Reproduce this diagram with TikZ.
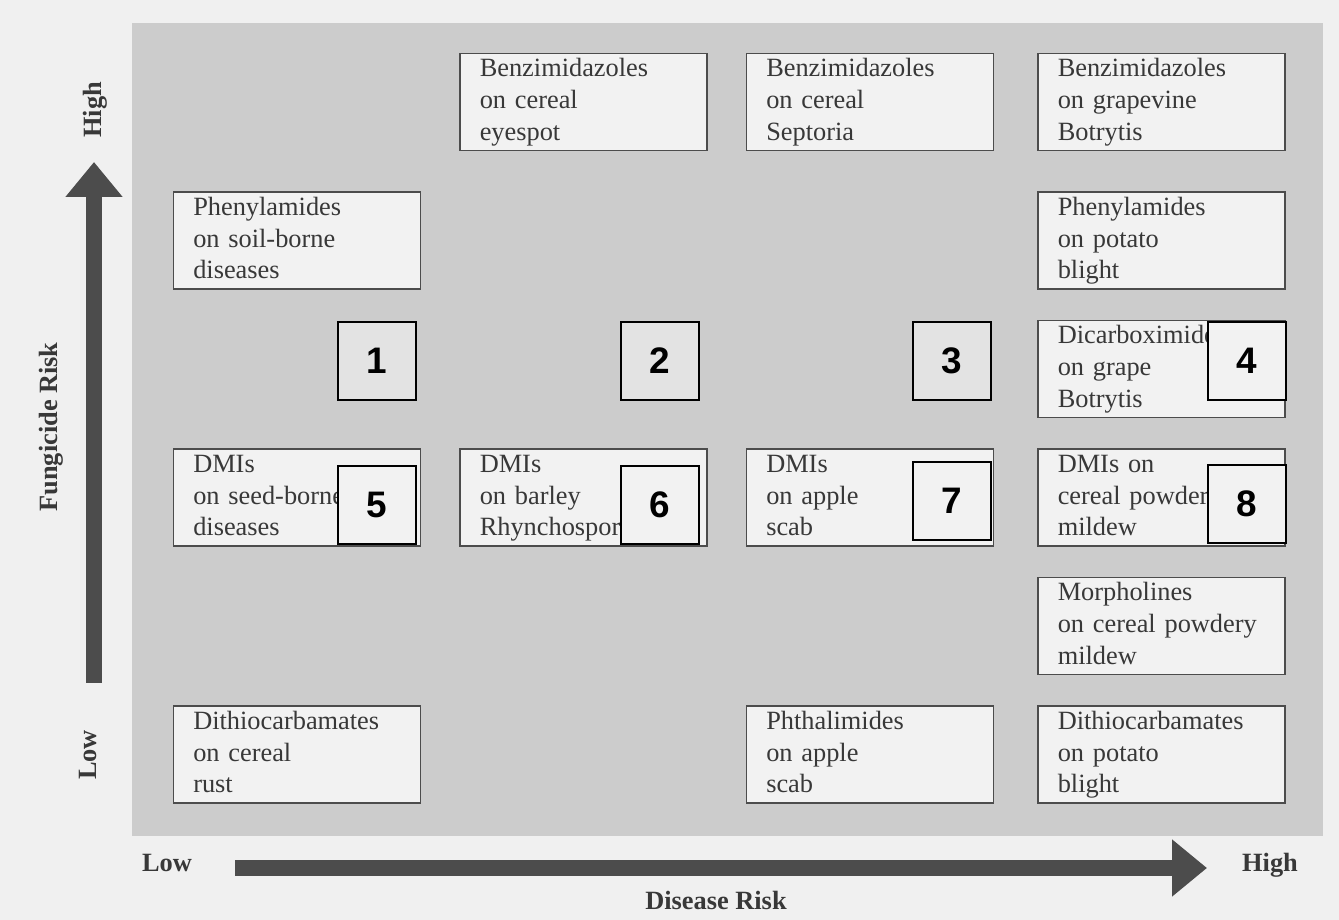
\documentclass[tikz,border=0pt]{standalone}
\usepackage{fontspec}
\setmainfont{Liberation Serif}
\newfontfamily\numfont{Liberation Sans}
\usepackage{tikz}
\usetikzlibrary{arrows.meta, positioning, calc}
\definecolor{page}{gray}{0.94}
\definecolor{panel}{gray}{0.80}
\definecolor{boxfill}{gray}{0.95}
\definecolor{boxline}{gray}{0.30}
\definecolor{ink}{gray}{0.22}
\definecolor{numgrey}{gray}{0.89}
\definecolor{arrowgrey}{gray}{0.30}
\tikzset{
node distance=6mm and 7.6mm,
>={Triangle[length=7mm,width=11mm]},
box/.style={%
    rectangle,
    draw=boxline,
    line width=0.85pt,
    fill=boxfill,
    text=ink,
    text width=4.14cm,
    inner xsep=4mm,
    inner ysep=0pt,
    minimum height=1.94cm,
    align=left,
    execute at begin node=\strut,
    execute at end node=\strut,
    % Font
    font=\fontsize{15}{18}\selectfont
},
num/.style={%
    rectangle,
    draw=black,
    line width=1.1pt,
    fill=boxfill,
    minimum size=1.56cm,
    inner sep=0pt,
    font=\numfont\bfseries\fontsize{21}{24}\selectfont
},
axis/.style={->, draw=arrowgrey, line width=3.3mm},
axlabel/.style={text=ink, font=\bfseries\fontsize{15}{18}\selectfont},
}

\begin{document}
\begin{tikzpicture}

\useasboundingbox[fill=page] (0,0) rectangle (26.78,-18.4);
\fill[panel] (2.64,-0.46) rectangle (26.46,-16.72);

% right column, top to bottom
\node[box,anchor=north west] (grapevine) at (20.74,-1.06) {Benzimidazoles\\on grapevine\\Botrytis};
\node[box,below=8mm of grapevine] (potato) {Phenylamides\\on potato\\blight};
\node[box,below=of potato] (grape) {Dicarboximides\\on grape\\Botrytis};
\node[box,below=of grape] (mildew) {DMIs on\\cereal powdery\\mildew};
\node[box,below=of mildew] (morph) {Morpholines\\on cereal powdery\\mildew};
\node[box,below=of morph] (potatodith) {Dithiocarbamates\\on potato\\blight};

% the other columns
\node[box,left=8.6mm of grapevine] (septoria) {Benzimidazoles\\on cereal\\Septoria};
\node[box,left=of septoria] (eyespot) {Benzimidazoles\\on cereal\\eyespot};
\node[box,left=8.6mm of mildew] (applescab) {DMIs\\on apple\\scab};
\node[box,left=of applescab] (barley) {DMIs\\on barley\\Rhynchosporium};
\node[box,left=of barley] (seedborne) {DMIs\\on seed-borne\\diseases};
\node[box] (soilborne) at (seedborne |- potato) {Phenylamides\\on soil-borne\\diseases};
\node[box,left=8.6mm of potatodith] (phthal) {Phthalimides\\on apple\\scab};
\node[box] (rust) at (seedborne |- potatodith) {Dithiocarbamates\\on cereal\\rust};

% numbered squares
\node[num,anchor=north east] (n4) at ($(grape.north east)+(0.02,-0.02)$) {4};
\node[num,anchor=south east] (n8) at ($(mildew.south east)+(0.02,0.06)$) {8};
\node[num,anchor=south east] (n7) at ($(applescab.south east)+(-0.04,0.12)$) {7};
\node[num,anchor=south east] (n6) at ($(barley.south east)+(-0.16,0.04)$) {6};
\node[num,anchor=south east] (n5) at ($(seedborne.south east)+(-0.08,0.04)$) {5};
\node[num,fill=numgrey] (n1) at (n5 |- n4) {1};
\node[num,fill=numgrey] (n2) at (n6 |- n4) {2};
\node[num,fill=numgrey] (n3) at (n7 |- n4) {3};

% axes
\coordinate (ybase) at (1.88,-13.66);
\coordinate (ytip) at (1.88,-3.24);
\coordinate (xbase) at (4.70,-17.36);
\coordinate (xtip) at (24.14,-17.36);
\draw[axis] (ybase) -- (ytip);
\draw[axis] (xbase) -- (xtip);

\node[axlabel,rotate=90] (yhigh) at (1.90,-2.20) {High};
\node[axlabel,rotate=90] (ytitle) at (1.02,-8.54) {Fungicide Risk};
\node[axlabel,rotate=90] (ylow) at (1.76,-15.10) {Low};
\node[axlabel] (xlow) at (3.34,-17.26) {Low};
\node[axlabel] (xhigh) at (25.40,-17.30) {High};
\node[axlabel] (xtitle) at (14.32,-18.0) {Disease Risk};

\end{tikzpicture}
\end{document}
